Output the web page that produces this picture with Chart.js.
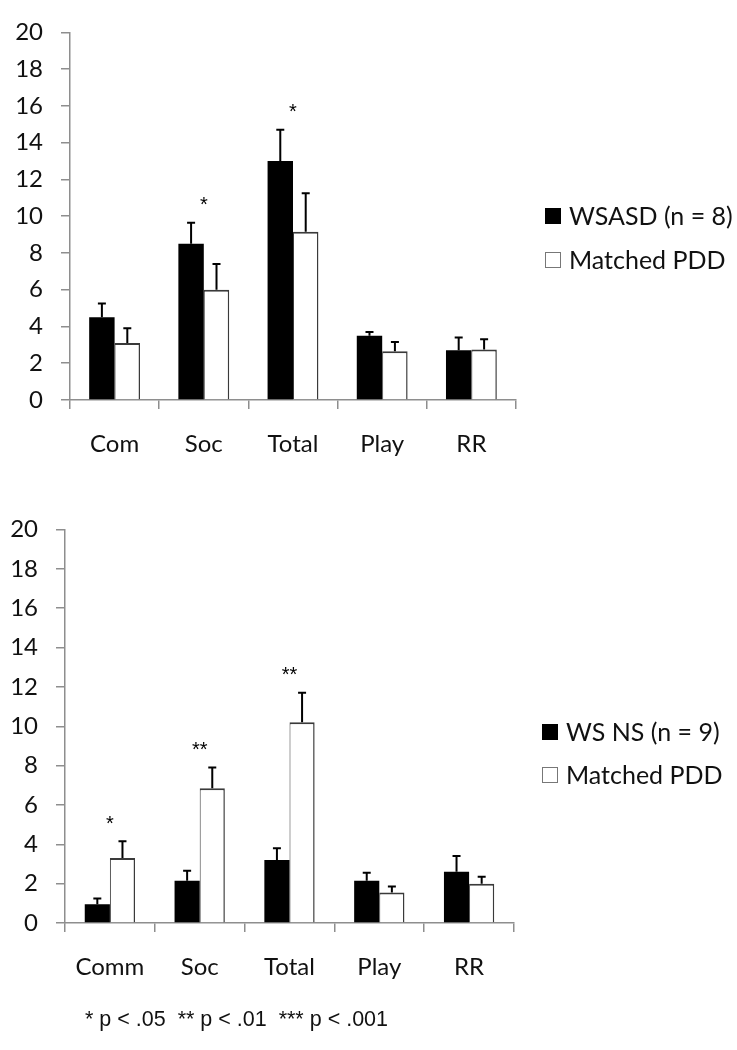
<!DOCTYPE html>
<html>
<head>
<meta charset="utf-8">
<script src="https://cdn.jsdelivr.net/npm/chart.js@4.4.1/dist/chart.umd.min.js"></script>
<style>
  html, body { margin: 0; padding: 0; background: #ffffff; }
  body { width: 737px; height: 1050px; position: relative; overflow: hidden; }
  canvas { position: absolute; left: 0; }
  #c1 { top: 0; }
  #c2 { top: 490px; }
  #note { position: absolute; left: 85px; top: 1009px; font: 21.5px "Liberation Sans", Arial, sans-serif; color: #111; white-space: pre; line-height: 1; }
</style>
</head>
<body>
<canvas id="c1" width="737" height="490"></canvas>
<canvas id="c2" width="737" height="560"></canvas>
<div id="note">* p &lt; .05  ** p &lt; .01  *** p &lt; .001</div>
<script>
// ---------- data ----------
const categoriesTop = ['Com', 'Soc', 'Total', 'Play', 'RR'];
const categoriesBottom = ['Comm', 'Soc', 'Total', 'Play', 'RR'];

const wsasdMeans = [4.5, 8.5, 13.0, 3.5, 2.7];
const wsasdErrors = [0.75, 1.15, 1.7, 0.2, 0.7];
const pddTopMeans = [3.1, 6.0, 9.15, 2.65, 2.75];
const pddTopErrors = [0.8, 1.4, 2.1, 0.5, 0.55];
const starsTop = ['', '*', '*', '', ''];

const wsnsMeans = [0.95, 2.15, 3.2, 2.15, 2.6];
const wsnsErrors = [0.3, 0.5, 0.6, 0.4, 0.8];
const pddBottomMeans = [3.3, 6.85, 10.2, 1.55, 2.0];
const pddBottomErrors = [0.85, 1.05, 1.5, 0.3, 0.35];
const starsBottom = ['*', '**', '**', '', ''];

const yMin = 0, yMax = 20, yStep = 2;

// ---------- styles ----------
const AXIS_GRAY = '#8e8e8e';
const TEXT = '#111111';
const FONT = 'Lato, "Noto Sans", sans-serif';

const annotPlugin = {
  id: 'annot',
  afterDatasetsDraw(chart, args, opts) {
    const ctx = chart.ctx;
    const y = chart.scales.y;
    ctx.save();
    // error bars (upward only)
    chart.data.datasets.forEach((ds, di) => {
      const meta = chart.getDatasetMeta(di);
      meta.data.forEach((bar, i) => {
        const top = y.getPixelForValue(ds.data[i] + ds.errors[i]);
        ctx.strokeStyle = '#000';
        ctx.lineWidth = 2;
        ctx.beginPath();
        ctx.moveTo(bar.x, bar.y);
        ctx.lineTo(bar.x, top);
        ctx.moveTo(bar.x - 4, top);
        ctx.lineTo(bar.x + 4, top);
        ctx.stroke();
      });
    });
    // significance stars
    const size = 20;
    ctx.font = size + 'px "Liberation Sans", Arial, sans-serif';
    ctx.fillStyle = '#000';
    ctx.textAlign = 'center';
    ctx.textBaseline = 'alphabetic';
    opts.stars.forEach((s, i) => {
      if (!s) return;
      let xs = 0, n = 0, topVal = -Infinity;
      chart.data.datasets.forEach((ds, di) => {
        const bar = chart.getDatasetMeta(di).data[i];
        xs += bar.x; n++;
        topVal = Math.max(topVal, ds.data[i] + ds.errors[i]);
      });
      const cy = y.getPixelForValue(topVal) - 23;
      ctx.fillText(s, xs / n, cy + 0.57 * size);
    });
    ctx.restore();
  },
  afterDraw(chart, args, opts) {
    const ctx = chart.ctx;
    const L = opts.legend;
    ctx.save();
    chart.data.datasets.forEach((ds, di) => {
      const cy = L.y + di * L.gap;
      ctx.fillStyle = ds.backgroundColor;
      ctx.fillRect(L.x, cy - 8, 16, 16);
      if (ds.backgroundColor !== '#000000') {
        ctx.strokeStyle = '#777';
        ctx.lineWidth = 1;
        ctx.strokeRect(L.x + 0.5, cy - 7.5, 15, 15);
      }
      ctx.fillStyle = TEXT;
      ctx.font = '25px ' + FONT;
      ctx.textAlign = 'left';
      ctx.textBaseline = 'middle';
      ctx.fillText(ds.label, L.x + 24, cy + 1);
    });
    ctx.restore();
  }
};

function makeChart(id, cats, d1, e1, label1, d2, e2, stars, cfg) {
  return new Chart(document.getElementById(id), {
    type: 'bar',
    data: {
      labels: cats,
      datasets: [
        { label: label1, data: d1, errors: e1, backgroundColor: '#000000', borderWidth: 0,
          categoryPercentage: cfg.catPct, barPercentage: 1.0 },
        { label: 'Matched PDD', data: d2, errors: e2, backgroundColor: '#ffffff',
          borderColor: '#3a3a3a', borderWidth: { top: 2, right: 1.5, left: 1, bottom: 0 },
          categoryPercentage: cfg.catPct, barPercentage: 1.0 }
      ]
    },
    options: {
      responsive: false,
      devicePixelRatio: 1,
      animation: false,
      events: [],
      layout: { padding: cfg.padding },
      plugins: {
        legend: { display: false },
        tooltip: { enabled: false },
        annot: { stars: stars, legend: cfg.legend }
      },
      scales: {
        x: {
          afterFit: (s) => { s.height = 70; },
          grid: { display: true, offset: true, drawOnChartArea: false, drawTicks: true,
                  tickLength: 9, color: AXIS_GRAY, lineWidth: 1.5 },
          border: { display: true, color: AXIS_GRAY, width: 1.5 },
          ticks: { font: { family: FONT, size: 24 }, color: TEXT, padding: 21, maxRotation: 0 }
        },
        y: {
          min: yMin, max: yMax,
          afterFit: (s) => { s.width = cfg.yWidth; },
          grid: { display: true, drawOnChartArea: false, drawTicks: true,
                  tickLength: 9, color: AXIS_GRAY, lineWidth: 1.5 },
          border: { display: true, color: AXIS_GRAY, width: 1.5 },
          ticks: { stepSize: yStep, font: { family: FONT, size: 24 }, color: TEXT, padding: 18 }
        }
      }
    },
    plugins: [annotPlugin]
  });
}

makeChart('c1', categoriesTop, wsasdMeans, wsasdErrors, 'WSASD (n = 8)',
  pddTopMeans, pddTopErrors, starsTop,
  { catPct: 0.57, yWidth: 70, padding: { top: 25, right: 221, bottom: 20, left: 0 },
    legend: { x: 545, y: 216, gap: 44 } });

makeChart('c2', categoriesBottom, wsnsMeans, wsnsErrors, 'WS NS (n = 9)',
  pddBottomMeans, pddBottomErrors, starsBottom,
  { catPct: 0.56, yWidth: 65, padding: { top: 39.5, right: 223, bottom: 57, left: 0 },
    legend: { x: 542, y: 242, gap: 43 } });
</script>
</body>
</html>
